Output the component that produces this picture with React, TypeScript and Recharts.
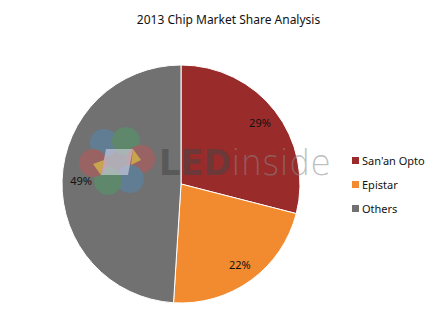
import { PieChart, Pie, Cell, Legend } from "recharts";

const categories = ["San'an Opto", "Epistar", "Others"];
const shares = [29, 22, 49];
const colors = ["#9a2b2b", "#f28b30", "#717171"];

const data = categories.map((name, i) => ({ name, value: shares[i] }));

const RAD = Math.PI / 180;
const FONT = "'Noto Sans', 'Open Sans', sans-serif";

function renderLabel(props: any) {
  const { cx, cy, midAngle, outerRadius, value } = props;
  const r = outerRadius * 0.84;
  const x = cx + r * Math.cos(-midAngle * RAD);
  const y = cy + r * Math.sin(-midAngle * RAD);
  return (
    <text x={x} y={y} fill="#111" fontSize={11} fontFamily={FONT} textAnchor="middle" dominantBaseline="central">
      {value}%
    </text>
  );
}

function renderLegend() {
  return (
    <div style={{ fontFamily: FONT, fontSize: 11, color: "#111" }}>
      {data.map((d, i) => (
        <div key={d.name} style={{ display: "flex", alignItems: "center", height: 24 }}>
          <span style={{ width: 7, height: 7, background: colors[i], marginRight: 3 }} />
          {d.name}
        </div>
      ))}
    </div>
  );
}

// faint site watermark over the pie
function Watermark() {
  const petals = [
    { x: 104, y: 143, c: "#4a90c8" },
    { x: 126, y: 141, c: "#45a865" },
    { x: 141, y: 159, c: "#d65050" },
    { x: 130, y: 179, c: "#4a90c8" },
    { x: 108, y: 181, c: "#45a865" },
    { x: 93, y: 163, c: "#d65050" },
  ];
  return (
    <svg width={441} height={313} style={{ position: "absolute", left: 0, top: 0, pointerEvents: "none" }}>
      <g opacity={0.4}>
        {petals.map((p, i) => (
          <circle key={i} cx={p.x} cy={p.y} r={14} fill={p.c} />
        ))}
      </g>
      <polygon points="106,149 133,149 128,175 101,175" fill="#e4dcee" opacity={0.55} />
      <polygon points="133,149 141,160 131,165" fill="#e8d040" opacity={0.6} />
      <polygon points="101,175 93,164 104,160" fill="#e8d040" opacity={0.6} />
      <text x={159} y={175} fontFamily="'DejaVu Sans', sans-serif" fontSize={36} textLength={172} lengthAdjust="spacingAndGlyphs">
        <tspan fontWeight="bold" fill="#444" fillOpacity={0.55}>LED</tspan>
        <tspan fill="#888" fillOpacity={0.55} fontWeight={200}>inside</tspan>
      </text>
    </svg>
  );
}

export default function App() {
  return (
    <div style={{ position: "relative", width: 441, height: 313, background: "#fff" }}>
      <style>{`body{margin:0}`}</style>
      <div
        style={{
          position: "absolute",
          top: 11,
          left: 0,
          width: 441,
          paddingLeft: 16,
          boxSizing: "border-box",
          textAlign: "center",
          fontFamily: FONT,
          fontSize: 12,
          color: "#111",
        }}
      >
        2013 Chip Market Share Analysis
      </div>
      <PieChart width={441} height={313} margin={{ top: 0, right: 0, bottom: 0, left: 0 }}>
        <Pie
          data={data}
          dataKey="value"
          nameKey="name"
          cx={181}
          cy={184}
          outerRadius={119}
          startAngle={90}
          endAngle={-270}
          stroke="#fff"
          strokeWidth={1}
          label={renderLabel}
          labelLine={false}
          isAnimationActive={false}
        >
          {data.map((d, i) => (
            <Cell key={d.name} fill={colors[i]} />
          ))}
        </Pie>
        <Legend
          layout="vertical"
          align="right"
          verticalAlign="top"
          content={renderLegend}
          wrapperStyle={{ left: 352, top: 148, width: 90 }}
        />
      </PieChart>
      <Watermark />
    </div>
  );
}
